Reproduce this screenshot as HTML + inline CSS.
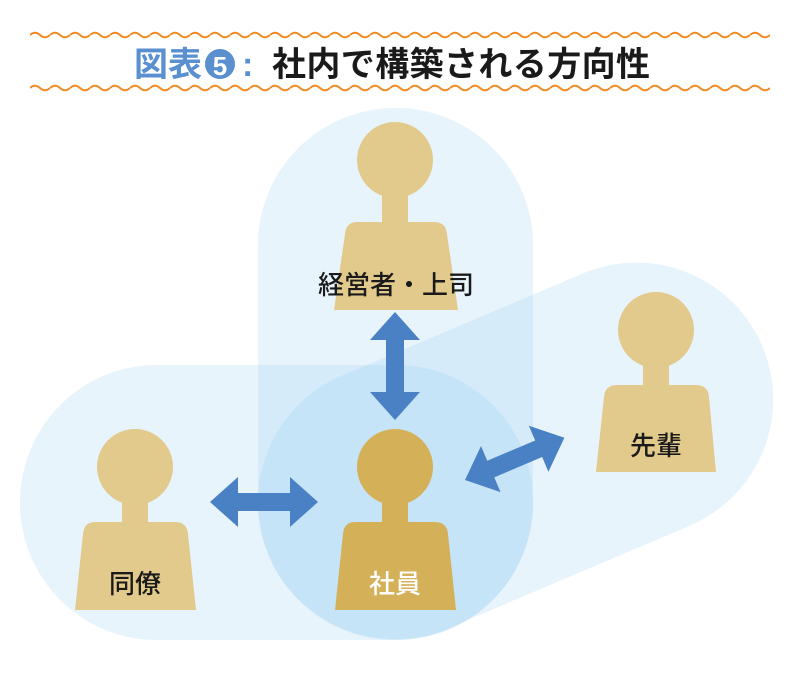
<!DOCTYPE html>
<html><head><meta charset="utf-8"><style>
html,body{margin:0;padding:0;background:#fff;}
svg{display:block;}
text{font-family:"Liberation Sans","Noto Sans CJK JP",sans-serif;}
</style></head><body>
<svg width="800" height="681" viewBox="0 0 800 681" xmlns="http://www.w3.org/2000/svg">
<defs>
<pattern id="wave1" x="30" y="29" width="20" height="12" patternUnits="userSpaceOnUse">
<path d="M0 6 Q5 1.5 10 6 T20 6" fill="none" stroke="#f08a24" stroke-width="2"/>
</pattern>
<pattern id="wave2" x="30" y="82" width="20" height="12" patternUnits="userSpaceOnUse">
<path d="M0 6 Q5 1.5 10 6 T20 6" fill="none" stroke="#f08a24" stroke-width="2"/>
</pattern>
<g id="arrow">
<polygon points="0,0 28,-25 28,-9 80,-9 80,-25 108,0 80,25 80,9 28,9 28,25" fill="#4a80c4"/>
</g>
</defs>
<rect x="30" y="29" width="740" height="12" fill="url(#wave1)"/>
<rect x="30" y="82" width="740" height="12" fill="url(#wave2)"/>
<text x="134" y="76" font-size="34" font-weight="bold" fill="#5a8fd0">図表</text>
<circle cx="220" cy="64" r="15" fill="#5a8fd0"/>
<text x="220" y="75" font-size="26" font-weight="bold" fill="#fff" text-anchor="middle">5</text>
<text x="242" y="76" font-size="34" font-weight="bold" fill="#5a8fd0">:</text>
<text x="272" y="76" font-size="34" font-weight="bold" fill="#1a1a1a" textLength="378">社内で構築される方向性</text>

<g fill="rgb(140,200,240)" fill-opacity="0.2">
<rect x="258" y="108" width="275" height="532" rx="137"/>
<rect x="20" y="365" width="513" height="275" rx="137"/>
<g transform="translate(395,502) rotate(-23)">
<rect x="-137" y="-137" width="536" height="274" rx="137"/>
</g>
</g>
<circle cx="396" cy="502" r="137" fill="#c6e4f7"/>

<g fill="#e2c98c">
<circle cx="395" cy="160" r="38"/>
<rect x="382" y="190" width="26" height="35"/>
<path d="M357 222 H434 Q446 222 447 234 L458 310 H334 L345 234 Q346 222 357 222Z"/>
<circle cx="135" cy="467" r="38"/>
<rect x="122" y="497" width="26" height="28"/>
<path d="M95 522 H175 Q187 522 188 534 L196 610 H75 L83 534 Q84 522 95 522Z"/>
<circle cx="656" cy="330" r="38"/>
<rect x="643" y="360" width="26" height="28"/>
<path d="M617 385 H696 Q708 385 709 397 L716 472 H596 L604 397 Q605 385 617 385Z"/>
</g>
<g fill="#d4b158">
<circle cx="395" cy="467" r="38"/>
<rect x="382" y="497" width="26" height="28"/>
<path d="M355 522 H435 Q447 522 448 534 L456 610 H335 L343 534 Q344 522 355 522Z"/>
</g>

<use href="#arrow" transform="translate(210,502)"/>
<use href="#arrow" transform="translate(395,312) rotate(90)"/>
<use href="#arrow" transform="translate(465,480) rotate(-23)"/>

<g font-size="26" font-weight="500" text-anchor="middle">
<text x="396" y="294" fill="#1a1a1a">経営者・上司</text>
<text x="135" y="593" fill="#1a1a1a">同僚</text>
<text x="395" y="593" fill="#fff">社員</text>
<text x="656" y="455" fill="#1a1a1a">先輩</text>
</g>
</svg>
</body></html>
